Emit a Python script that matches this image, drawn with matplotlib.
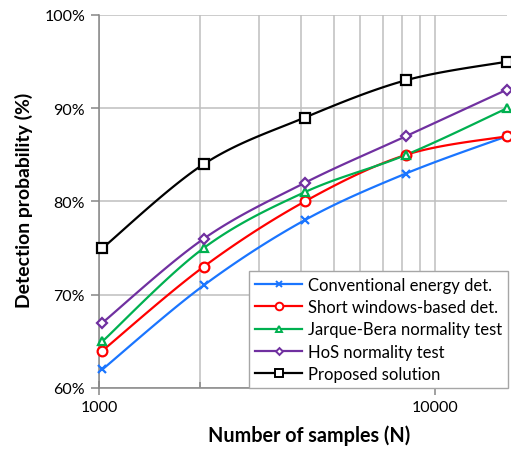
import numpy as np
import matplotlib
matplotlib.use("Agg")
import matplotlib.pyplot as plt
from matplotlib.ticker import FixedLocator, FuncFormatter, NullFormatter

plt.rcParams['font.family'] = ['Lato', 'DejaVu Sans']

samples = [1024, 2048, 4096, 8192, 16384]
conventional = [62, 71, 78, 83, 87]
short_windows = [64, 73, 80, 85, 87]
jarque_bera = [65, 75, 81, 85, 90]
hos = [67, 76, 82, 87, 92]
proposed = [75, 84, 89, 93, 95]

labels = ["Conventional energy det.", "Short windows-based det.",
          "Jarque-Bera normality test", "HoS normality test", "Proposed solution"]
series = [conventional, short_windows, jarque_bera, hos, proposed]
colors = ["#1A75FF", "#FF0000", "#00B050", "#7030A0", "#000000"]
markers = ["x", "o", "^", "D", "s"]
msizes = [6, 7, 6, 5, 7]

W, H = 511, 456


def smooth(xs, ys, n=30):
    lx = np.log10(np.asarray(xs, float))
    y = np.asarray(ys, float)
    px, py = [], []
    m = len(lx)
    for i in range(m - 1):
        p0 = (lx[max(i - 1, 0)], y[max(i - 1, 0)])
        p1 = (lx[i], y[i])
        p2 = (lx[i + 1], y[i + 1])
        p3 = (lx[min(i + 2, m - 1)], y[min(i + 2, m - 1)])
        c1 = (p1[0] + (p2[0] - p0[0]) / 6, p1[1] + (p2[1] - p0[1]) / 6)
        c2 = (p2[0] - (p3[0] - p1[0]) / 6, p2[1] - (p3[1] - p1[1]) / 6)
        t = np.linspace(0, 1, n)
        bx = ((1 - t) ** 3 * p1[0] + 3 * (1 - t) ** 2 * t * c1[0]
              + 3 * (1 - t) * t ** 2 * c2[0] + t ** 3 * p2[0])
        by = ((1 - t) ** 3 * p1[1] + 3 * (1 - t) ** 2 * t * c1[1]
              + 3 * (1 - t) * t ** 2 * c2[1] + t ** 3 * p2[1])
        px.extend(bx)
        py.extend(by)
    return 10 ** np.array(px), np.array(py)


fig = plt.figure(figsize=(W / 100, H / 100), dpi=100)
ax = fig.add_axes([99 / W, 1 - 389 / H, (507 - 99) / W, (389 - 16) / H])
renderer = fig.canvas.get_renderer()


def fit_size(text_obj, target_px, horizontal=True):
    for _ in range(4):
        bb = text_obj.get_window_extent(renderer=renderer)
        cur = bb.width if horizontal else bb.height
        if cur > 0:
            text_obj.set_fontsize(text_obj.get_fontsize() * target_px / cur)


ax.set_xscale('log')
ax.set_xlim(1000, 16384)
ax.set_ylim(60, 100)

for ys, c, mk, ms, lab in zip(series, colors, markers, msizes, labels):
    sx, sy = smooth(samples, ys)
    ax.plot(sx, sy, color=c, lw=1.6, zorder=3, solid_capstyle='round')
    ax.plot(samples, ys, linestyle='none', marker=mk, markersize=ms,
            markeredgecolor=c, markerfacecolor='white' if mk != 'x' else c,
            markeredgewidth=1.6, zorder=4, clip_on=False)
    ax.plot([], [], color=c, lw=1.6, marker=mk, markersize=ms - 1.5,
            markeredgecolor=c, markerfacecolor='white' if mk != 'x' else c,
            markeredgewidth=1.4, label=lab)

ax.yaxis.set_major_locator(FixedLocator([60, 70, 80, 90, 100]))
ax.yaxis.set_major_formatter(FuncFormatter(lambda v, p: f"{int(v)}%"))
ax.xaxis.set_major_locator(FixedLocator([1000, 10000]))
ax.xaxis.set_major_formatter(FuncFormatter(lambda v, p: f"{int(v)}"))
ax.xaxis.set_minor_locator(FixedLocator([2000, 3000, 4000, 5000, 6000, 7000, 8000, 9000]))
ax.xaxis.set_minor_formatter(NullFormatter())

ax.grid(True, which='major', axis='both', color='#BFBFBF', lw=1.1, zorder=0)
ax.grid(True, which='minor', axis='x', color='#BFBFBF', lw=1.1, zorder=0)
ax.set_axisbelow(True)

for s in ['top', 'right']:
    ax.spines[s].set_visible(False)
for s in ['left', 'bottom']:
    ax.spines[s].set_color('#868686')
    ax.spines[s].set_linewidth(1.1)

ax.tick_params(axis='both', which='major', length=6, width=1.1, color='#868686',
               labelsize=11.5, labelcolor='black', pad=4)
ax.tick_params(axis='x', which='major', direction='inout', length=10)
ax.tick_params(axis='x', which='minor', direction='in', length=4, width=1.1, color='#868686')

xl = fig.text(309 / W, 1 - 436 / H, "Number of samples (N)", fontsize=13,
              fontweight='bold', ha='center', va='center')
yl = fig.text(24 / W, 1 - 200 / H, "Detection probability (%)", fontsize=13,
              fontweight='bold', ha='center', va='center', rotation=90)
fit_size(xl, 202, True)
fit_size(yl, 215, False)

# legend sized to match the reference text width
probe = fig.text(0, 0, labels[0], fontsize=11.5)
fit_size(probe, 186, True)
leg_fs = probe.get_fontsize()
probe.remove()

leg = ax.legend(loc='lower right', bbox_to_anchor=(1.002, 0.0), fontsize=leg_fs,
                frameon=True, fancybox=False, borderpad=0.35, labelspacing=0.38,
                handlelength=2.8, handletextpad=0.35, borderaxespad=0.0)
leg.get_frame().set_edgecolor('#A6A6A6')
leg.get_frame().set_linewidth(1.0)
leg.get_frame().set_alpha(1.0)

fig.savefig("out.png", dpi=100)
